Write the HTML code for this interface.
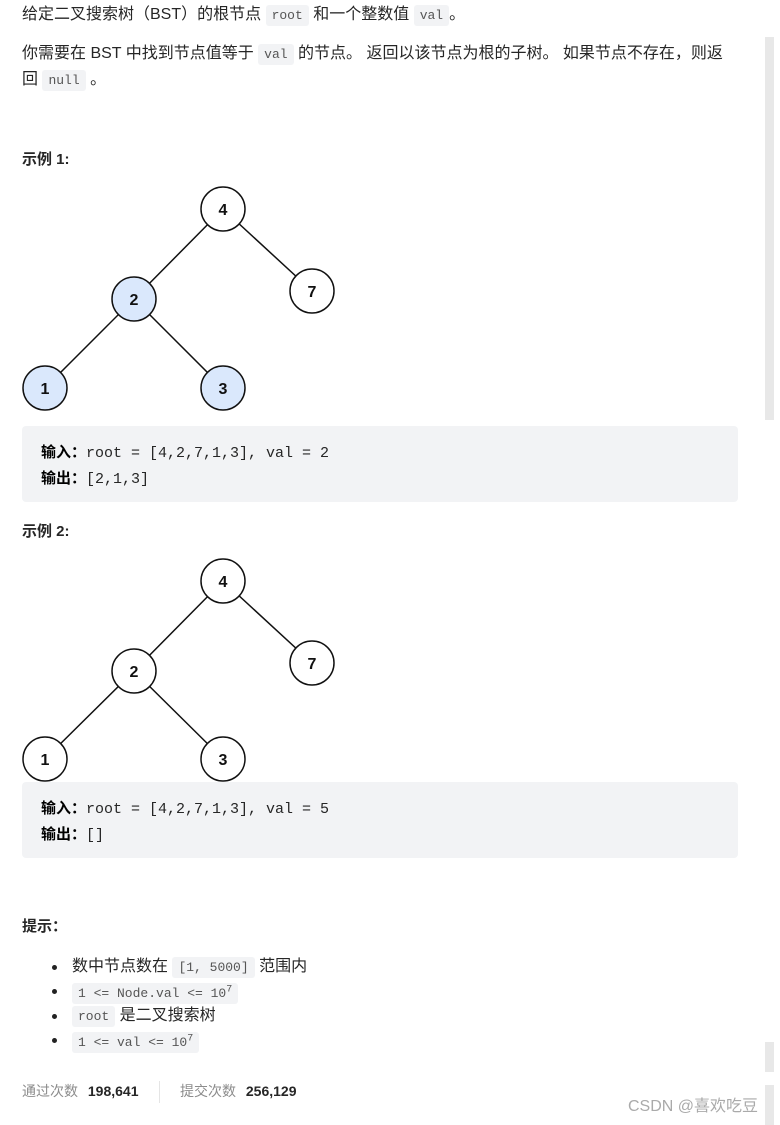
<!DOCTYPE html>
<html><head><meta charset="utf-8"><style>
body{margin:0;width:780px;height:1125px;background:#fff;position:relative;overflow:hidden;font-family:"Liberation Sans","Noto Sans CJK SC",sans-serif;color:#262626;font-size:16px}
.t{position:absolute;white-space:nowrap;line-height:22px}
code{font-family:"Liberation Mono","Noto Sans CJK SC",monospace;font-size:13px;background:#f2f3f5;border-radius:3px;padding:3px 6px;color:#555}
b{font-weight:bold}
.pre{position:absolute;left:22px;width:716px;background:#f2f3f5;border-radius:4px}
.pre div{position:absolute;left:19px;font-family:"Liberation Mono","Noto Sans CJK SC",monospace;font-size:15px;color:#262626;white-space:nowrap}
.pre b{font-family:"Liberation Sans","Noto Sans CJK SC",sans-serif;color:#000;font-size:15px}
.sb{position:absolute;left:765px;width:9px;background:#e8e8e8}
.li{position:absolute;left:52px;white-space:nowrap}
.li:before{content:"";position:absolute;left:0;top:9px;width:5px;height:5px;border-radius:50%;background:#222}
.li span.c{position:absolute;left:20px;top:0}
</style></head><body>
<div class="sb" style="top:37px;height:383px"></div>
<div class="sb" style="top:1042px;height:30px"></div>
<div class="sb" style="top:1085px;height:40px"></div>

<div class="t" style="left:22px;top:4px">给定二叉搜索树（BST）的根节点 <code>root</code> 和一个整数值 <code>val</code>。</div>
<div class="t" style="left:22px;top:43px">你需要在 BST 中找到节点值等于 <code>val</code> 的节点。 返回以该节点为根的子树。 如果节点不存在，则返</div>
<div class="t" style="left:22px;top:69px">回 <code>null</code> 。</div>

<div class="t" style="left:22px;top:149px;font-weight:bold;font-size:15px">示例 1:</div>

<svg style="position:absolute;left:0;top:0" width="780" height="1125">
<g stroke="#111" stroke-width="1.5" fill="none">
<line x1="223" y1="209" x2="134" y2="299"/><line x1="223" y1="209" x2="312" y2="291"/>
<line x1="134" y1="299" x2="45" y2="388"/><line x1="134" y1="299" x2="223" y2="388"/>
<line x1="223" y1="581" x2="134" y2="671"/><line x1="223" y1="581" x2="312" y2="663"/>
<line x1="134" y1="671" x2="45" y2="759"/><line x1="134" y1="671" x2="223" y2="759"/>
</g>
<g stroke="#111" stroke-width="1.5">
<circle cx="223" cy="209" r="22" fill="#fff"/>
<circle cx="134" cy="299" r="22" fill="#dae8fc"/>
<circle cx="312" cy="291" r="22" fill="#fff"/>
<circle cx="45" cy="388" r="22" fill="#dae8fc"/>
<circle cx="223" cy="388" r="22" fill="#dae8fc"/>
<circle cx="223" cy="581" r="22" fill="#fff"/>
<circle cx="134" cy="671" r="22" fill="#fff"/>
<circle cx="312" cy="663" r="22" fill="#fff"/>
<circle cx="45" cy="759" r="22" fill="#fff"/>
<circle cx="223" cy="759" r="22" fill="#fff"/>
</g>
<g font-family="Liberation Sans" font-weight="bold" font-size="16" text-anchor="middle" fill="#111">
<text x="223" y="215">4</text><text x="134" y="305">2</text><text x="312" y="297">7</text><text x="45" y="394">1</text><text x="223" y="394">3</text>
<text x="223" y="587">4</text><text x="134" y="677">2</text><text x="312" y="669">7</text><text x="45" y="765">1</text><text x="223" y="765">3</text>
</g>
</svg>

<div class="pre" style="top:426px;height:76px">
<div style="top:15px"><b>输入：</b>root = [4,2,7,1,3], val = 2</div>
<div style="top:41px"><b>输出：</b>[2,1,3]</div>
</div>

<div class="t" style="left:22px;top:521px;font-weight:bold;font-size:15px">示例 2:</div>

<div class="pre" style="top:782px;height:76px">
<div style="top:15px"><b>输入：</b>root = [4,2,7,1,3], val = 5</div>
<div style="top:41px"><b>输出：</b>[]</div>
</div>

<div class="t" style="left:22px;top:916px;font-weight:bold;font-size:15px">提示：</div>
<div class="li t" style="top:956px"><span class="c">数中节点数在 <code>[1, 5000]</code> 范围内</span></div>
<div class="li t" style="top:980px"><span class="c"><code>1 &lt;= Node.val &lt;= 10<sup style="font-size:10px">7</sup></code></span></div>
<div class="li t" style="top:1005px"><span class="c"><code>root</code> 是二叉搜索树</span></div>
<div class="li t" style="top:1029px"><span class="c"><code>1 &lt;= val &lt;= 10<sup style="font-size:10px">7</sup></code></span></div>

<div class="t" style="left:22px;top:1080px;color:#8c8c8c;font-size:14px">通过次数 <b style="color:#262626;margin-left:6px">198,641</b></div>
<div style="position:absolute;left:159px;top:1081px;width:1px;height:22px;background:#e5e5e5"></div>
<div class="t" style="left:180px;top:1080px;color:#8c8c8c;font-size:14px">提交次数 <b style="color:#262626;margin-left:6px">256,129</b></div>
<div class="t" style="left:628px;top:1096px;color:#aaa;font-size:16px">CSDN @喜欢吃豆</div>
</body></html>
